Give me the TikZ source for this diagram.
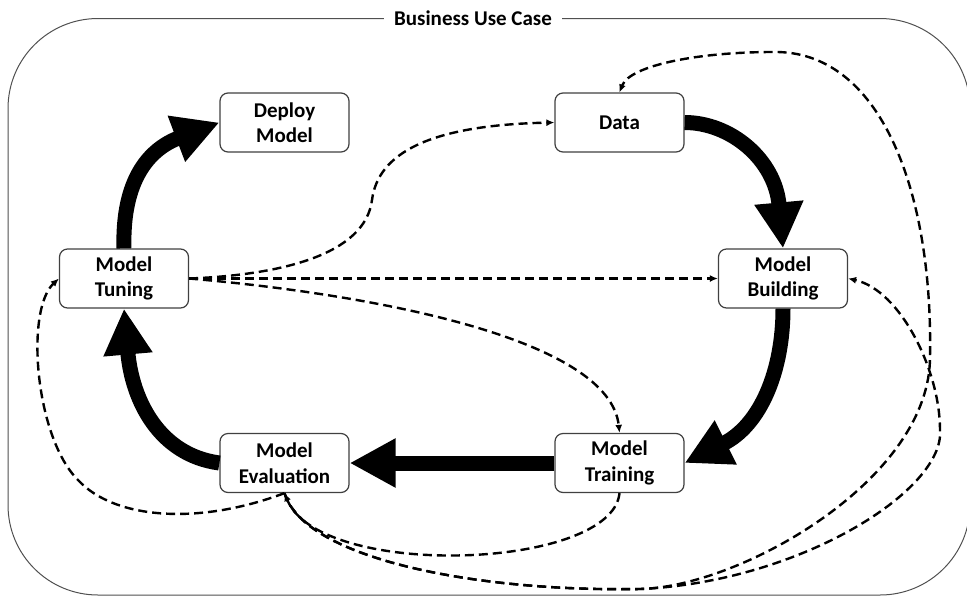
\documentclass[tikz,border=0pt]{standalone}
\usepackage{fontspec}
\setmainfont{Carlito}
\usetikzlibrary{arrows.meta}
\definecolor{framegray}{HTML}{505050}
\definecolor{boxgray}{HTML}{404040}
\begin{document}
\begin{tikzpicture}[x=1pt,y=-1pt,
  stage/.style={draw=boxgray, line width=1.2pt, rounded corners=8pt,
    minimum width=129pt, minimum height=59pt, inner sep=0pt, align=center,
    fill=white, font=\bfseries\fontsize{21}{25.5}\selectfont},
  flow/.style={line width=15pt, line cap=butt,
    -{Triangle[length=46pt,width=46pt]}},
  link/.style={line width=2.4pt, dash pattern=on 9pt off 5pt,
    -{Latex[length=8pt,width=7pt]}},
]
\useasboundingbox (0,0) rectangle (967,598);

% outer frame with its title
\draw[framegray, line width=1pt, rounded corners=90pt] (8,18.5) rectangle (970,595);
\node[fill=white, inner xsep=10pt, inner ysep=1pt,
      font=\bfseries\fontsize{21}{25}\selectfont] (title) at (473,18.5) {Business Use Case};

% stages
\node[stage] (Deploy)   at (284.5,122.5) {Deploy\\Model};
\node[stage] (Data)     at (619.5,122.5) {Data};
\node[stage] (Tuning)   at (124,278.5)   {Model\\Tuning};
\node[stage] (Building) at (783,278.5)   {Model\\Building};
\node[stage] (Eval)     at (284.5,463)   {Model\\Evaluation};
\node[stage] (Training) at (619.5,463)   {Model\\Training};

% main cycle
\draw[flow] (Data.east) .. controls +(46,0) and +(-8,-89) .. (Building.north);
\draw[flow] (Building.south) .. controls +(0,62) and +(76,-38) .. (Training.east);
\draw[flow] (Training.west) -- (Eval.east);
\draw[flow] (Eval.west) .. controls +(-60,-8) and +(8,92) .. (Tuning.south);
\draw[flow] (Tuning.north) .. controls +(-2,-69) and +(-70,26.5) .. (Deploy.west);

% waypoints of the feedback links
\coordinate (s1) at (372,200);
\coordinate (w1) at (78,480);
\coordinate (m)  at (640,589);
\coordinate (bx) at (930,357);
\coordinate (bt) at (773,52);
\coordinate (ay) at (940,430);

% feedback links
\draw[link] (Tuning.east) .. controls (280,275) and (365,255) .. (s1)
            .. controls (378,153) and (430,125) .. (Data.west);
\draw[link] (Tuning.east) -- (Building.west);
\draw[link] (Tuning.east) .. controls (380,295) and (610,340) .. (Training.north);
\draw[link] (Training.south) .. controls (612,570) and (320,580) .. (Eval.south);
\draw[link] (Eval.south) .. controls (200,525) and (115,520) .. (w1)
            .. controls (35,437) and (25,310) .. (Tuning.west);
\draw[link] (Eval.south) .. controls (305,560) and (480,592) .. (m)
            .. controls (740,587) and (930,480) .. (bx)
            .. controls (933,190) and (880,50) .. (bt)
            .. controls (700,52) and (630,65) .. (Data.north);
\draw[link] (Eval.south) .. controls (305,560) and (480,592) .. (m)
            .. controls (800,582) and (945,490) .. (ay)
            .. controls (940,370) and (900,290) .. (Building.east);
\end{tikzpicture}
\end{document}
